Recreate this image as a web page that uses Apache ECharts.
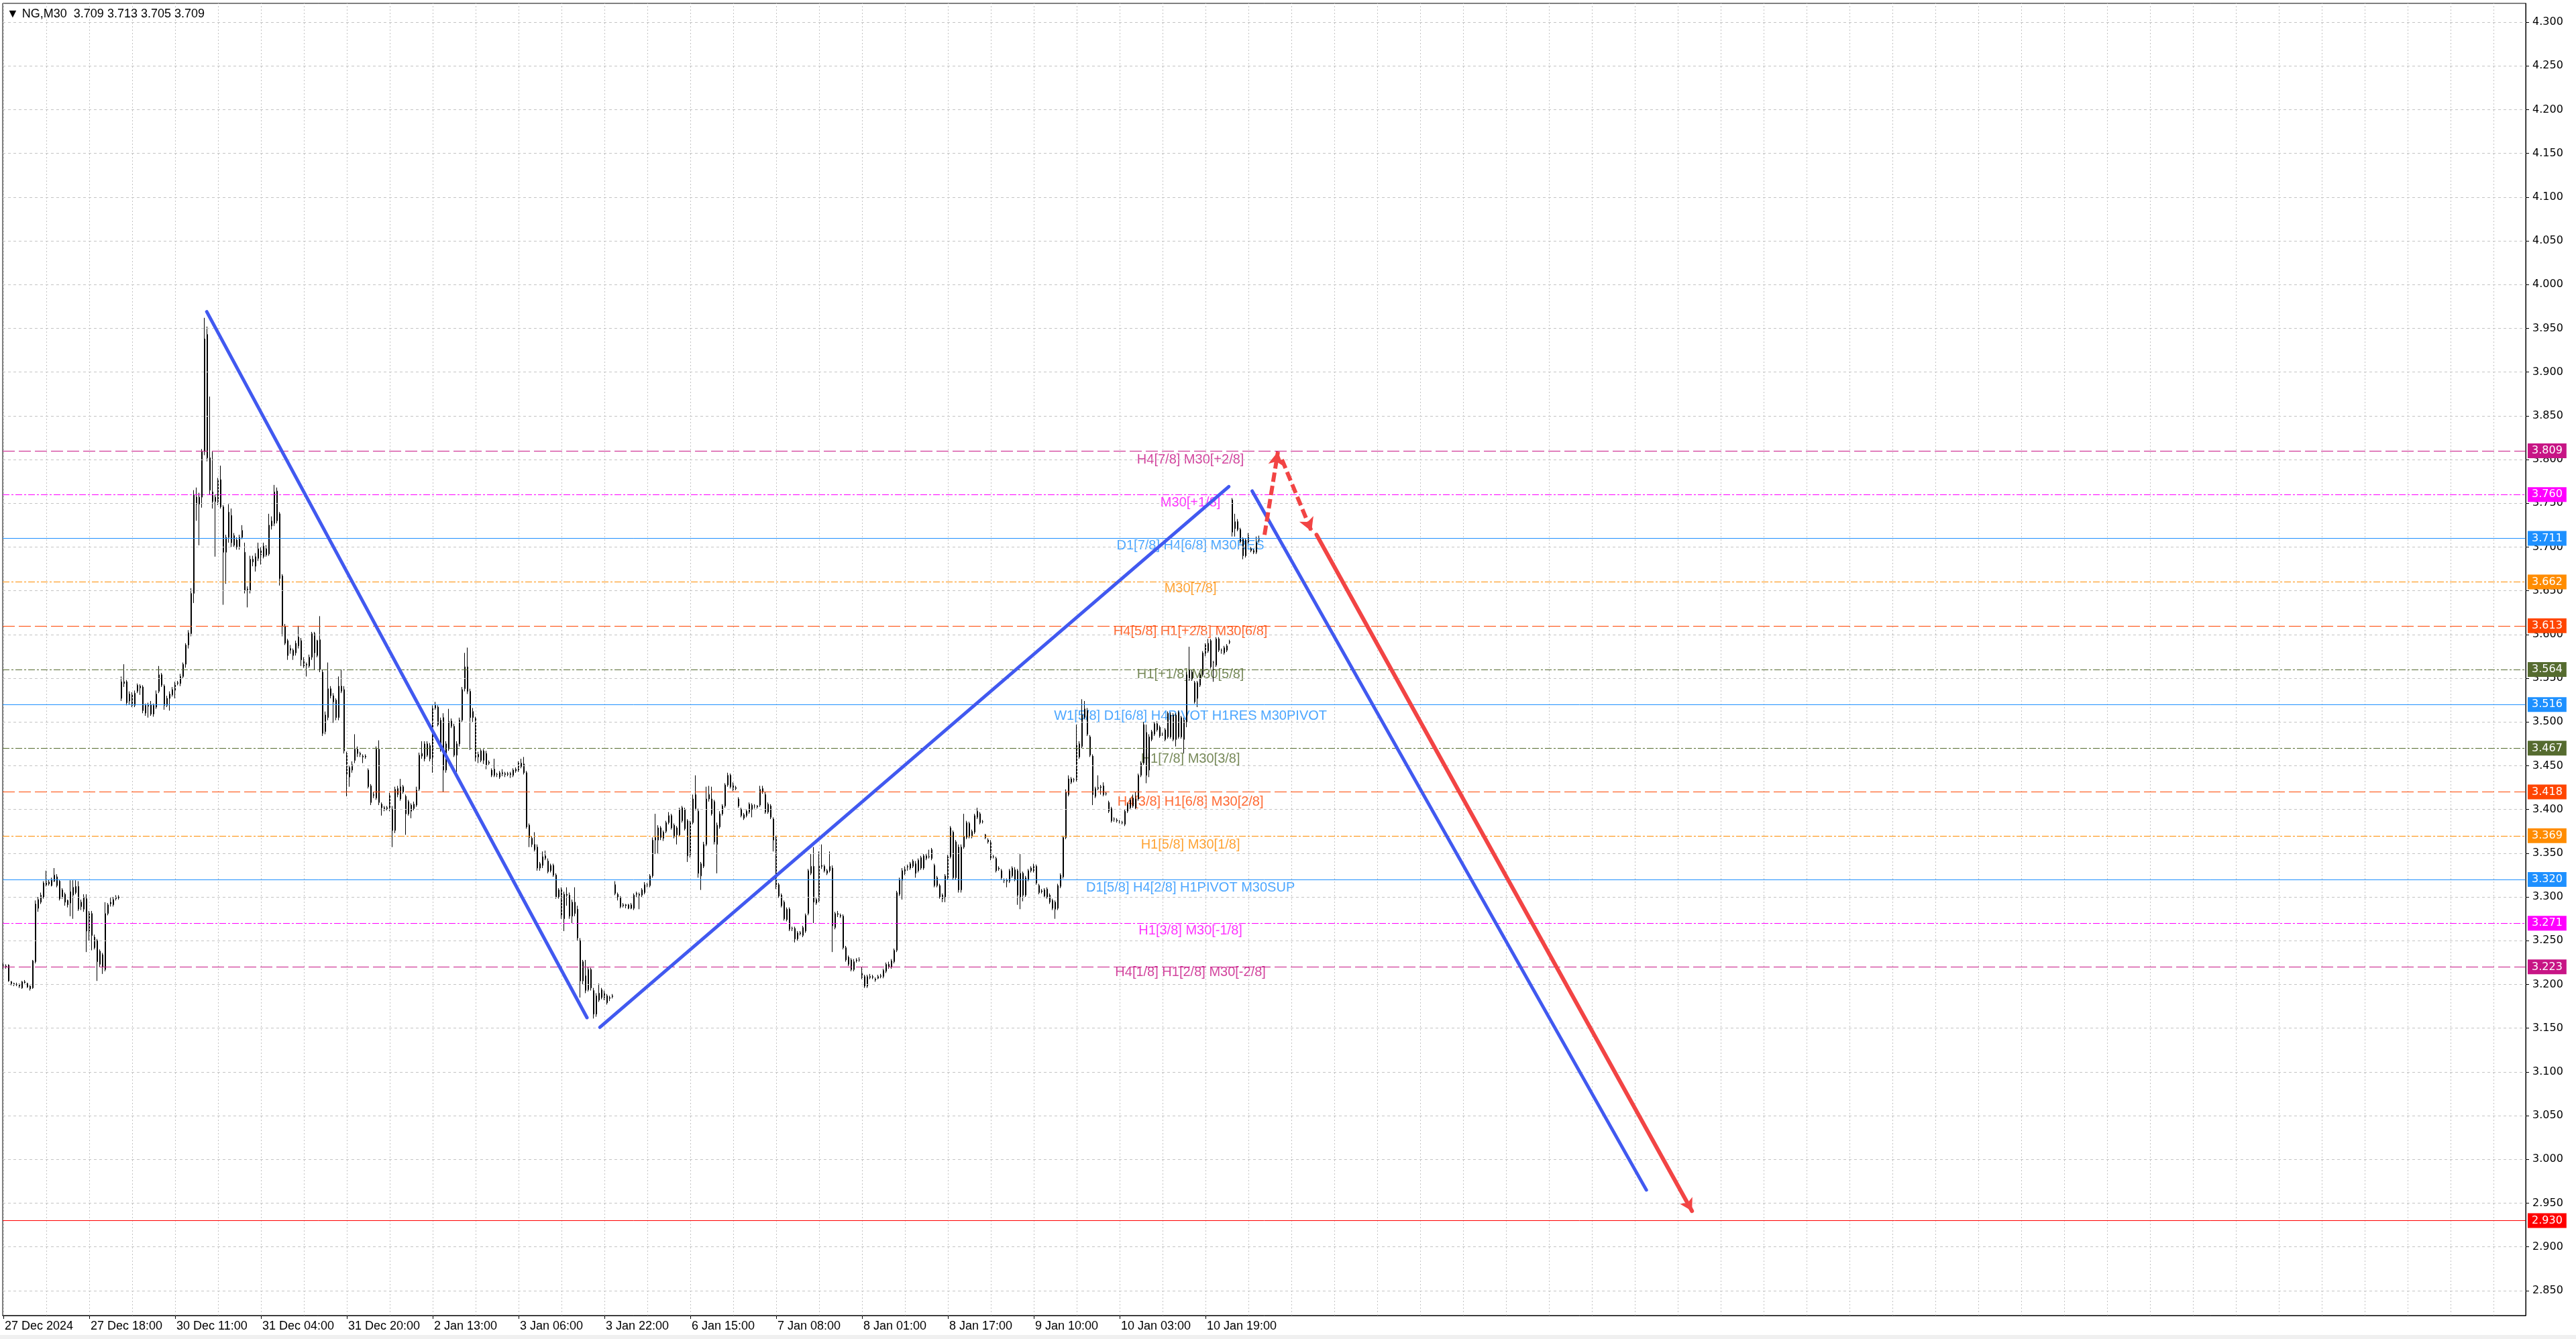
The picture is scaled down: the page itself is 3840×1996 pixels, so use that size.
<!DOCTYPE html>
<html><head><meta charset="utf-8">
<script src="https://cdn.jsdelivr.net/npm/echarts@6/dist/echarts.min.js"></script>
<style>html,body{margin:0;padding:0;background:#fff;overflow:hidden}#c{width:3840px;height:1996px}</style>
</head><body><div id="c"></div>
<script>
// ---------- DATA ----------
const symbolHeader = 'NG,M30  3.709 3.713 3.705 3.709';
const timeLabels = ['27 Dec 2024','27 Dec 18:00','30 Dec 11:00','31 Dec 04:00','31 Dec 20:00','2 Jan 13:00','3 Jan 06:00','3 Jan 22:00','6 Jan 15:00','7 Jan 08:00','8 Jan 01:00','8 Jan 17:00','9 Jan 10:00','10 Jan 03:00','10 Jan 19:00'];
const timeLabelBars = [0,32,64,96,128,160,192,224,256,288,320,352,384,416,448];
const priceTicks = [2.85,2.90,2.95,3.00,3.05,3.10,3.15,3.20,3.25,3.30,3.35,3.40,3.45,3.50,3.55,3.60,3.65,3.70,3.75,3.80,3.85,3.90,3.95,4.00,4.05,4.10,4.15,4.20,4.25,4.30];
// M30 bars: [open, high, low, close]
const bars = [
[3.222,3.224,3.218,3.220],[3.221,3.223,3.218,3.220],[3.222,3.223,3.203,3.204],[3.203,3.204,3.199,3.201],[3.201,3.202,3.198,3.200],
[3.200,3.202,3.198,3.200],[3.200,3.201,3.196,3.198],[3.196,3.204,3.195,3.203],[3.203,3.205,3.201,3.202],[3.201,3.202,3.196,3.197],
[3.198,3.199,3.193,3.195],[3.196,3.228,3.195,3.227],[3.226,3.296,3.224,3.292],[3.287,3.300,3.283,3.297],[3.294,3.305,3.292,3.302],
[3.300,3.318,3.298,3.316],[3.313,3.330,3.312,3.318],[3.317,3.320,3.313,3.315],[3.313,3.322,3.312,3.320],[3.318,3.333,3.317,3.325],
[3.323,3.326,3.311,3.313],[3.318,3.320,3.296,3.298],[3.308,3.310,3.298,3.300],[3.303,3.305,3.290,3.294],[3.296,3.297,3.288,3.291],
[3.293,3.319,3.278,3.306],[3.302,3.319,3.275,3.311],[3.312,3.319,3.303,3.305],[3.312,3.318,3.284,3.286],[3.294,3.297,3.285,3.289],
[3.286,3.303,3.283,3.300],[3.298,3.303,3.237,3.261],[3.261,3.284,3.250,3.281],[3.281,3.284,3.239,3.256],[3.254,3.257,3.240,3.242],
[3.250,3.252,3.204,3.226],[3.238,3.240,3.220,3.223],[3.234,3.236,3.212,3.220],[3.217,3.294,3.215,3.281],[3.281,3.293,3.279,3.291],
[3.292,3.299,3.289,3.294],[3.291,3.300,3.289,3.297],[3.298,3.302,3.296,3.300],[3.300,3.302,3.297,3.299],[3.527,3.552,3.524,3.546],
[3.546,3.566,3.540,3.544],[3.546,3.548,3.519,3.522],[3.524,3.535,3.520,3.532],[3.532,3.534,3.517,3.519],[3.519,3.536,3.517,3.533],
[3.535,3.544,3.533,3.542],[3.541,3.543,3.531,3.539],[3.540,3.542,3.510,3.513],[3.510,3.521,3.507,3.519],[3.519,3.522,3.505,3.518],
[3.520,3.524,3.507,3.509],[3.509,3.521,3.506,3.519],[3.517,3.536,3.515,3.532],[3.535,3.564,3.533,3.554],[3.554,3.556,3.540,3.542],
[3.541,3.543,3.514,3.519],[3.519,3.530,3.517,3.527],[3.527,3.535,3.513,3.532],[3.531,3.540,3.529,3.537],[3.535,3.546,3.527,3.544],
[3.544,3.547,3.542,3.545],[3.544,3.555,3.541,3.552],[3.552,3.568,3.550,3.566],[3.566,3.590,3.562,3.588],[3.588,3.605,3.584,3.602],
[3.601,3.653,3.598,3.647],[3.647,3.765,3.636,3.760],[3.757,3.768,3.730,3.749],[3.749,3.762,3.702,3.757],[3.757,3.812,3.745,3.809],
[3.809,3.962,3.805,3.938],[3.943,3.952,3.798,3.802],[3.802,3.872,3.760,3.765],[3.763,3.809,3.744,3.752],[3.752,3.760,3.689,3.757],
[3.752,3.779,3.748,3.776],[3.777,3.793,3.744,3.746],[3.746,3.748,3.634,3.694],[3.694,3.714,3.658,3.711],[3.711,3.749,3.705,3.740],
[3.736,3.744,3.700,3.705],[3.713,3.716,3.700,3.702],[3.708,3.711,3.697,3.700],[3.700,3.714,3.697,3.711],[3.711,3.725,3.709,3.719],
[3.694,3.705,3.647,3.650],[3.651,3.655,3.631,3.652],[3.650,3.690,3.647,3.686],[3.686,3.690,3.678,3.683],[3.678,3.693,3.672,3.689],
[3.687,3.705,3.684,3.698],[3.696,3.700,3.680,3.691],[3.689,3.705,3.687,3.701],[3.691,3.702,3.689,3.698],[3.692,3.738,3.690,3.725],
[3.724,3.735,3.720,3.730],[3.727,3.771,3.724,3.763],[3.764,3.768,3.727,3.730],[3.738,3.740,3.656,3.664],[3.667,3.669,3.598,3.610],
[3.609,3.612,3.588,3.590],[3.593,3.595,3.571,3.576],[3.582,3.588,3.578,3.584],[3.582,3.584,3.571,3.576],[3.579,3.593,3.576,3.590],
[3.587,3.610,3.584,3.597],[3.593,3.596,3.564,3.571],[3.571,3.574,3.562,3.564],[3.566,3.568,3.552,3.565],[3.564,3.577,3.562,3.574],
[3.574,3.603,3.571,3.601],[3.601,3.603,3.560,3.579],[3.576,3.594,3.574,3.593],[3.594,3.621,3.557,3.560],[3.557,3.560,3.484,3.487],
[3.489,3.512,3.486,3.508],[3.505,3.568,3.502,3.538],[3.538,3.541,3.527,3.530],[3.530,3.533,3.499,3.523],[3.525,3.527,3.502,3.505],
[3.505,3.552,3.502,3.541],[3.535,3.560,3.533,3.541],[3.537,3.541,3.464,3.467],[3.464,3.466,3.415,3.440],[3.437,3.450,3.426,3.448],
[3.445,3.455,3.442,3.451],[3.456,3.486,3.453,3.469],[3.469,3.472,3.460,3.464],[3.464,3.466,3.460,3.463],[3.461,3.463,3.453,3.460],
[3.460,3.463,3.458,3.461],[3.445,3.447,3.424,3.426],[3.427,3.429,3.405,3.408],[3.416,3.420,3.413,3.417],[3.413,3.472,3.411,3.469],
[3.469,3.479,3.405,3.408],[3.406,3.408,3.393,3.402],[3.402,3.404,3.398,3.401],[3.401,3.404,3.399,3.402],[3.401,3.419,3.398,3.417],
[3.400,3.404,3.357,3.376],[3.376,3.426,3.373,3.423],[3.417,3.427,3.414,3.424],[3.412,3.435,3.410,3.426],[3.426,3.428,3.418,3.420],
[3.415,3.417,3.371,3.395],[3.395,3.411,3.393,3.409],[3.405,3.407,3.390,3.398],[3.401,3.409,3.399,3.406],[3.405,3.426,3.403,3.422],
[3.423,3.465,3.421,3.462],[3.461,3.478,3.458,3.464],[3.458,3.478,3.455,3.475],[3.475,3.478,3.460,3.462],[3.473,3.476,3.455,3.458],
[3.458,3.519,3.442,3.516],[3.516,3.523,3.514,3.519],[3.517,3.519,3.495,3.497],[3.468,3.505,3.466,3.502],[3.505,3.510,3.420,3.445],
[3.445,3.478,3.442,3.475],[3.469,3.515,3.467,3.501],[3.495,3.504,3.493,3.501],[3.495,3.498,3.460,3.462],[3.462,3.478,3.443,3.475],
[3.475,3.505,3.472,3.502],[3.502,3.540,3.500,3.537],[3.538,3.579,3.535,3.563],[3.563,3.585,3.532,3.535],[3.535,3.538,3.468,3.505],
[3.505,3.516,3.500,3.512],[3.504,3.506,3.455,3.458],[3.460,3.466,3.453,3.463],[3.467,3.469,3.454,3.456],[3.456,3.469,3.452,3.467],
[3.464,3.467,3.446,3.451],[3.453,3.456,3.451,3.454],[3.439,3.447,3.437,3.445],[3.446,3.458,3.437,3.439],[3.440,3.442,3.437,3.440],
[3.437,3.444,3.435,3.442],[3.442,3.446,3.438,3.441],[3.441,3.443,3.437,3.440],[3.440,3.443,3.438,3.441],[3.441,3.443,3.436,3.440],
[3.439,3.447,3.437,3.445],[3.444,3.448,3.442,3.446],[3.445,3.455,3.443,3.453],[3.449,3.458,3.447,3.453],[3.452,3.460,3.440,3.442],
[3.442,3.444,3.378,3.380],[3.382,3.384,3.357,3.368],[3.367,3.369,3.357,3.360],[3.360,3.374,3.352,3.354],[3.357,3.360,3.330,3.333],
[3.338,3.340,3.330,3.333],[3.336,3.352,3.333,3.346],[3.344,3.353,3.342,3.347],[3.341,3.344,3.327,3.329],[3.330,3.338,3.328,3.336],
[3.336,3.338,3.323,3.325],[3.325,3.327,3.298,3.300],[3.308,3.310,3.298,3.300],[3.308,3.311,3.275,3.278],[3.275,3.306,3.261,3.303],
[3.303,3.311,3.290,3.302],[3.302,3.305,3.275,3.278],[3.294,3.297,3.270,3.278],[3.281,3.311,3.278,3.294],[3.286,3.290,3.250,3.253],
[3.250,3.253,3.185,3.204],[3.204,3.228,3.200,3.226],[3.193,3.228,3.190,3.210],[3.217,3.220,3.192,3.194],[3.217,3.219,3.193,3.196],
[3.193,3.196,3.161,3.166],[3.166,3.190,3.163,3.187],[3.182,3.201,3.180,3.190],[3.185,3.196,3.183,3.194],[3.190,3.193,3.182,3.185],
[3.187,3.189,3.177,3.179],[3.184,3.187,3.181,3.185],[3.186,3.189,3.184,3.187],[3.314,3.318,3.302,3.304],[3.303,3.305,3.296,3.300],
[3.300,3.301,3.287,3.289],[3.290,3.293,3.288,3.291],[3.291,3.292,3.287,3.290],[3.291,3.292,3.286,3.287],[3.287,3.293,3.286,3.291],
[3.287,3.304,3.285,3.302],[3.303,3.306,3.300,3.304],[3.303,3.305,3.286,3.302],[3.302,3.310,3.300,3.308],[3.305,3.317,3.303,3.314],
[3.313,3.316,3.311,3.314],[3.313,3.326,3.311,3.324],[3.324,3.368,3.322,3.365],[3.365,3.395,3.349,3.368],[3.379,3.382,3.349,3.365],
[3.379,3.381,3.365,3.368],[3.367,3.376,3.364,3.374],[3.375,3.387,3.373,3.385],[3.385,3.397,3.383,3.393],[3.393,3.395,3.377,3.379],
[3.382,3.384,3.367,3.369],[3.379,3.381,3.360,3.371],[3.371,3.402,3.369,3.400],[3.387,3.404,3.385,3.402],[3.400,3.402,3.376,3.378],
[3.387,3.389,3.340,3.347],[3.347,3.387,3.345,3.385],[3.385,3.417,3.383,3.412],[3.401,3.439,3.399,3.417],[3.398,3.401,3.322,3.327],
[3.324,3.340,3.308,3.338],[3.335,3.363,3.333,3.360],[3.360,3.426,3.358,3.412],[3.417,3.427,3.409,3.412],[3.412,3.426,3.393,3.395],
[3.409,3.411,3.360,3.363],[3.360,3.385,3.327,3.382],[3.380,3.398,3.378,3.395],[3.395,3.406,3.393,3.404],[3.404,3.430,3.402,3.428],
[3.428,3.442,3.426,3.439],[3.439,3.441,3.424,3.426],[3.429,3.431,3.421,3.423],[3.425,3.427,3.422,3.424],[3.412,3.414,3.402,3.404],
[3.400,3.402,3.391,3.393],[3.394,3.396,3.388,3.390],[3.393,3.400,3.391,3.398],[3.397,3.408,3.395,3.406],[3.400,3.407,3.391,3.405],
[3.404,3.406,3.401,3.404],[3.404,3.405,3.401,3.403],[3.405,3.427,3.403,3.423],[3.420,3.427,3.418,3.424],[3.417,3.420,3.395,3.397],
[3.397,3.408,3.395,3.406],[3.404,3.406,3.389,3.391],[3.389,3.391,3.352,3.365],[3.368,3.370,3.309,3.312],[3.314,3.316,3.299,3.301],
[3.302,3.304,3.288,3.290],[3.294,3.296,3.273,3.275],[3.274,3.288,3.272,3.286],[3.286,3.288,3.261,3.263],[3.264,3.266,3.261,3.264],
[3.264,3.266,3.248,3.252],[3.252,3.261,3.250,3.259],[3.259,3.261,3.256,3.258],[3.256,3.267,3.254,3.265],[3.261,3.281,3.259,3.279],
[3.281,3.332,3.279,3.330],[3.327,3.349,3.325,3.335],[3.335,3.357,3.270,3.294],[3.293,3.299,3.291,3.297],[3.296,3.352,3.294,3.336],
[3.336,3.360,3.332,3.335],[3.335,3.337,3.328,3.330],[3.327,3.332,3.325,3.330],[3.330,3.352,3.328,3.335],[3.333,3.336,3.237,3.267],
[3.265,3.283,3.263,3.281],[3.281,3.284,3.277,3.280],[3.279,3.281,3.276,3.278],[3.278,3.280,3.240,3.242],[3.242,3.244,3.226,3.228],
[3.231,3.233,3.221,3.223],[3.228,3.230,3.215,3.217],[3.217,3.229,3.215,3.226],[3.227,3.230,3.225,3.228],[3.228,3.231,3.226,3.228],
[3.214,3.220,3.206,3.208],[3.209,3.211,3.196,3.198],[3.198,3.211,3.196,3.209],[3.209,3.212,3.206,3.208],[3.208,3.211,3.206,3.209],
[3.206,3.208,3.203,3.205],[3.207,3.211,3.206,3.209],[3.209,3.212,3.207,3.210],[3.209,3.218,3.207,3.216],[3.215,3.225,3.213,3.223],
[3.220,3.226,3.218,3.223],[3.220,3.229,3.218,3.227],[3.226,3.241,3.224,3.239],[3.239,3.307,3.237,3.305],[3.303,3.322,3.301,3.320],
[3.319,3.333,3.297,3.330],[3.327,3.335,3.325,3.333],[3.334,3.337,3.330,3.335],[3.333,3.340,3.331,3.338],[3.335,3.343,3.333,3.341],
[3.338,3.341,3.322,3.327],[3.330,3.344,3.328,3.342],[3.333,3.347,3.331,3.345],[3.347,3.349,3.331,3.333],[3.344,3.349,3.342,3.347],
[3.346,3.354,3.344,3.346],[3.354,3.356,3.342,3.344],[3.336,3.338,3.311,3.313],[3.322,3.324,3.311,3.313],[3.313,3.315,3.298,3.300],
[3.302,3.304,3.294,3.298],[3.300,3.326,3.294,3.324],[3.322,3.348,3.320,3.346],[3.346,3.381,3.344,3.379],[3.374,3.376,3.320,3.322],
[3.322,3.365,3.320,3.363],[3.357,3.360,3.305,3.308],[3.308,3.360,3.305,3.357],[3.357,3.395,3.355,3.369],[3.368,3.387,3.366,3.385],
[3.384,3.386,3.367,3.369],[3.369,3.377,3.367,3.375],[3.374,3.395,3.372,3.393],[3.391,3.402,3.389,3.398],[3.395,3.397,3.383,3.385],
[3.386,3.388,3.384,3.386],[3.371,3.372,3.366,3.368],[3.365,3.367,3.361,3.363],[3.363,3.365,3.342,3.344],[3.346,3.348,3.344,3.346],
[3.344,3.346,3.328,3.330],[3.333,3.335,3.330,3.332],[3.330,3.332,3.320,3.322],[3.319,3.321,3.316,3.319],[3.319,3.321,3.311,3.318],
[3.318,3.332,3.316,3.330],[3.324,3.335,3.322,3.333],[3.331,3.334,3.318,3.320],[3.330,3.332,3.291,3.302],[3.300,3.349,3.286,3.327],
[3.327,3.329,3.295,3.302],[3.302,3.324,3.300,3.322],[3.320,3.332,3.318,3.330],[3.330,3.335,3.328,3.333],[3.330,3.338,3.328,3.335],
[3.335,3.337,3.314,3.316],[3.313,3.315,3.303,3.305],[3.306,3.309,3.304,3.307],[3.308,3.310,3.299,3.301],[3.300,3.311,3.298,3.309],
[3.302,3.304,3.292,3.294],[3.296,3.298,3.285,3.287],[3.294,3.296,3.275,3.286],[3.287,3.315,3.285,3.313],[3.312,3.327,3.310,3.325],
[3.323,3.370,3.321,3.368],[3.368,3.423,3.366,3.420],[3.417,3.439,3.415,3.435],[3.431,3.437,3.429,3.435],[3.434,3.436,3.431,3.434],
[3.434,3.497,3.432,3.475],[3.460,3.478,3.458,3.475],[3.472,3.526,3.470,3.508],[3.505,3.524,3.503,3.515],[3.513,3.516,3.484,3.486],
[3.483,3.485,3.460,3.462],[3.461,3.463,3.405,3.417],[3.415,3.426,3.413,3.424],[3.424,3.439,3.422,3.425],[3.425,3.428,3.417,3.426],
[3.427,3.431,3.415,3.417],[3.418,3.420,3.416,3.418],[3.408,3.410,3.396,3.398],[3.401,3.403,3.385,3.387],[3.389,3.391,3.386,3.389],
[3.388,3.390,3.385,3.387],[3.386,3.388,3.384,3.386],[3.385,3.387,3.383,3.385],[3.383,3.400,3.381,3.398],[3.398,3.408,3.396,3.406],
[3.402,3.413,3.400,3.411],[3.404,3.417,3.402,3.413],[3.402,3.420,3.400,3.412],[3.412,3.441,3.410,3.439],[3.439,3.455,3.437,3.453],
[3.453,3.500,3.451,3.497],[3.488,3.497,3.430,3.439],[3.445,3.486,3.437,3.483],[3.480,3.491,3.478,3.489],[3.486,3.500,3.484,3.498],
[3.498,3.501,3.489,3.491],[3.494,3.496,3.482,3.484],[3.486,3.488,3.484,3.486],[3.491,3.493,3.478,3.480],[3.483,3.512,3.481,3.510],
[3.508,3.511,3.481,3.483],[3.480,3.510,3.478,3.508],[3.508,3.510,3.472,3.480],[3.483,3.513,3.481,3.511],[3.505,3.507,3.481,3.483],
[3.480,3.505,3.464,3.502],[3.500,3.557,3.494,3.554],[3.549,3.586,3.547,3.560],[3.549,3.560,3.547,3.557],[3.545,3.547,3.521,3.523],
[3.545,3.547,3.517,3.527],[3.542,3.556,3.540,3.554],[3.554,3.581,3.552,3.579],[3.577,3.590,3.575,3.588],[3.581,3.595,3.579,3.590],
[3.593,3.595,3.561,3.563],[3.568,3.570,3.546,3.568],[3.565,3.597,3.563,3.595],[3.595,3.597,3.580,3.582],[3.582,3.584,3.578,3.582],
[3.579,3.587,3.577,3.585],[3.582,3.589,3.580,3.587],[3.591,3.594,3.589,3.592],[3.754,3.756,3.712,3.717],[3.721,3.738,3.712,3.729],
[3.729,3.732,3.718,3.720],[3.720,3.722,3.704,3.706],[3.709,3.711,3.686,3.690],[3.690,3.710,3.688,3.708],[3.706,3.716,3.704,3.713],
[3.698,3.700,3.694,3.696],[3.696,3.698,3.692,3.694],[3.694,3.712,3.692,3.705],[3.709,3.713,3.705,3.709]
];
// Murrey-math style levels
const levelPrices = [3.809,3.760,3.711,3.662,3.613,3.564,3.516,3.467,3.418,3.369,3.320,3.271,3.223];
const levelTexts = ['H4[7/8] M30[+2/8]','M30[+1/8]','D1[7/8] H4[6/8] M30RES','M30[7/8]','H4[5/8] H1[+2/8] M30[6/8]','H1[+1/8] M30[5/8]','W1[5/8] D1[6/8] H4PIVOT H1RES M30PIVOT','H1[7/8] M30[3/8]','H4[3/8] H1[6/8] M30[2/8]','H1[5/8] M30[1/8]','D1[5/8] H4[2/8] H1PIVOT M30SUP','H1[3/8] M30[-1/8]','H4[1/8] H1[2/8] M30[-2/8]'];
const targetPrice = 2.930;
const bidPrice = 3.709;
// drawn trend lines: [[barIndex, price], [barIndex, price]]
const blueLines = [[[75.8,3.969],[217.5,3.162]],[[222.3,3.151],[456.7,3.769]],[[465.4,3.764],[612.3,2.965]]];
const redDashedArrows = [[[470,3.714],[475,3.809]],[[476.5,3.800],[487.5,3.718]]];
const redArrow = [[[489.4,3.714],[629.3,2.941]]];

// ---------- STYLE ----------
const MVR='#C71585', MAG='#FF00FF', DBL='#1E90FF', DOR='#FF8C00', ORR='#FF4500', OLV='#556B2F';
const DASH=[18,6], DASHDOT=[10,3,3,3];
const levelLook = [
 {c:MVR,d:DASH},{c:MAG,d:DASHDOT},{c:DBL,d:'solid'},{c:DOR,d:DASHDOT},{c:ORR,d:DASH},{c:OLV,d:DASHDOT},
 {c:DBL,d:'solid'},{c:OLV,d:DASHDOT},{c:ORR,d:DASH},{c:DOR,d:DASHDOT},{c:DBL,d:'solid'},{c:MAG,d:DASHDOT},{c:MVR,d:DASH}
];
const BLUE='#4159F0', RED='#F24444';
const LABEL_BAR = 442.4;
const XMIN=-0.25, XMAX=940, YMIN=2.8215, YMAX=4.3215;
const vGrid=[]; for(let k=0;k<=XMAX;k+=16) vGrid.push(k);

const chart = echarts.init(document.getElementById('c'), null, {renderer:'canvas', width:3840, height:1996});
const candleData = bars.map((b,i)=>[i,b[0],b[3],b[2],b[1]]);
const boxLabel = (c)=>({show:true, position:'end', distance:3, color:'#fff', backgroundColor:c, padding:[3,6,2,6], fontSize:16, lineHeight:17, fontFamily:'"DejaVu Sans", Verdana, sans-serif'});

const option = {
  animation:false,
  backgroundColor:'#ffffff',
  grid:{left:4, right:75, top:5, bottom:35, show:true, borderColor:'#000', borderWidth:1, backgroundColor:'#fff'},
  xAxis:{type:'value', min:XMIN, max:XMAX, position:'bottom',
    axisLine:{show:true, onZero:false, lineStyle:{color:'#000', width:1}},
    axisTick:{show:true, customValues:timeLabelBars, length:5, lineStyle:{color:'#000'}},
    axisLabel:{show:true, customValues:timeLabelBars, formatter:(v)=>timeLabels[Math.round(v/32)], align:'left', margin:7, padding:[0,0,0,2],
      color:'#000', fontSize:18, fontFamily:'"Liberation Sans", Arial, sans-serif'},
    splitLine:{show:false}},
  yAxis:{type:'value', min:YMIN, max:YMAX, position:'right',
    axisLine:{show:true, onZero:false, lineStyle:{color:'#000', width:1}},
    axisTick:{show:true, customValues:priceTicks, length:5, lineStyle:{color:'#000'}},
    axisLabel:{show:true, customValues:priceTicks, formatter:(v)=>v.toFixed(3), margin:10, color:'#000', fontSize:16, fontFamily:'"DejaVu Sans", Verdana, sans-serif'},
    splitLine:{show:false}},
  graphic:[
    {type:'rect', left:0, top:1990, shape:{width:3840, height:6}, style:{fill:'#F0F0F0'}, silent:true},
    {type:'text', left:10, top:12, style:{text:'▼ '+symbolHeader, font:'18px "Liberation Sans", Arial, sans-serif', fill:'#000'}, silent:true, z:10}
  ],
  series:[
    {type:'line', name:'grid', data:[], z:1, silent:true, clip:false,
      markLine:{silent:true, symbol:'none', animation:false, label:{show:false},
        data:[...priceTicks.map(v=>({yAxis:v, lineStyle:{color:'#C4C4C4', type:[4,4], width:1}})),
              ...vGrid.map(k=>({xAxis:k, lineStyle:{color:'#C4C4C4', type:[2,3], width:1}}))]}},
    {type:'line', name:'levels', data:[], z:2, silent:true, clip:false,
      markLine:{silent:true, symbol:'none', animation:false,
        data:[{yAxis:bidPrice, lineStyle:{color:'#A8A8A8', type:'solid', width:1}, label:{show:false}},
          ...levelPrices.map((p,i)=>({yAxis:p, lineStyle:{color:levelLook[i].c, type:levelLook[i].d, width:1}, label:Object.assign(boxLabel(levelLook[i].c), {formatter:p.toFixed(3)})})),
          {yAxis:targetPrice, lineStyle:{color:'#FF0000', type:'solid', width:1}, label:Object.assign(boxLabel('#FF0000'), {formatter:targetPrice.toFixed(3)})}]}},
    {type:'scatter', name:'levelText', z:2, silent:true, symbolSize:1, itemStyle:{color:'rgba(0,0,0,0)'},
      label:{show:true, position:'bottom', distance:2, fontSize:20, lineHeight:20, fontFamily:'"Liberation Sans", Arial, sans-serif'},
      data: levelPrices.map((p,i)=>({value:[LABEL_BAR,p], label:{formatter:levelTexts[i], color:levelLook[i].c}}))},
    {type:'candlestick', name:'NG,M30', z:3, data:candleData, barWidth:2,
      itemStyle:{color:'#ffffff', color0:'#000000', borderColor:'#000000', borderColor0:'#000000', borderWidth:1}},
    {type:'line', name:'blue', data:[], z:5, silent:true, clip:false,
      markLine:{silent:true, symbol:'none', animation:false, label:{show:false},
        lineStyle:{color:BLUE, width:5, type:'solid', cap:'round'},
        data: blueLines.map(l=>[{coord:l[0]},{coord:l[1]}])}},
    {type:'line', name:'redDash', data:[], z:6, silent:true, clip:false,
      markLine:{silent:true, symbol:['none','arrow'], symbolSize:[17,20], animation:false, label:{show:false},
        lineStyle:{color:RED, width:6, type:[14,6]},
        data: redDashedArrows.map(l=>[{coord:l[0]},{coord:l[1]}])}},
    {type:'line', name:'red', data:[], z:6, silent:true, clip:false,
      markLine:{silent:true, symbol:['none','arrow'], symbolSize:[16,18], animation:false, label:{show:false},
        lineStyle:{color:RED, width:6, type:'solid', cap:'round'},
        data: redArrow.map(l=>[{coord:l[0]},{coord:l[1]}])}}
  ]
};
chart.setOption(option);
</script>
</body></html>
